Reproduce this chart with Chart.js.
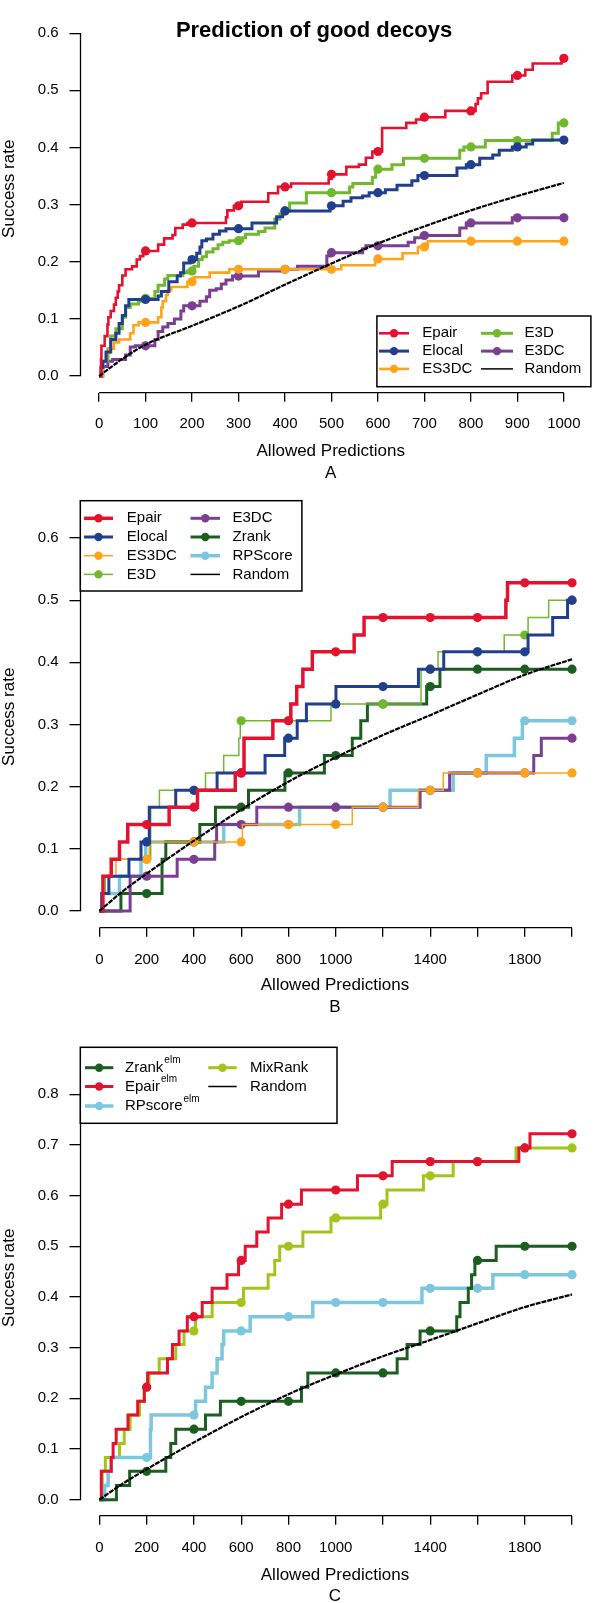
<!DOCTYPE html>
<html><head><meta charset="utf-8">
<script src="https://cdn.jsdelivr.net/npm/chart.js@4.4.1/dist/chart.umd.min.js"></script>
<style>
html,body{margin:0;padding:0;background:#fff;}
#wrap{position:relative;width:594px;height:1603px;overflow:hidden;background:#fff;}
.pane{position:absolute;left:0;width:594px;}
canvas{display:block;}
</style></head><body>
<div id="wrap">
 <div class="pane" style="top:-35px;height:521px"><canvas id="cA" width="594" height="521"></canvas></div>
 <div class="pane" style="top:486px;height:534px"><canvas id="cB" width="594" height="534"></canvas></div>
 <div class="pane" style="top:1020px;height:583px"><canvas id="cC" width="594" height="583"></canvas></div>
</div>
<script>
// ---------------- DATA ----------------
// Panel A : x = allowed predictions, y = success rate ; pairs are [x where step occurs, new value]
const A_epair  = [[0,0],[4,0.03],[5,0.053],[12,0.07],[18,0.09],[20,0.103],[25,0.114],[32,0.125],[36,0.137],[40,0.148],[43,0.159],[50,0.176],[57,0.187],[71,0.192],[81,0.204],[88,0.21],[95,0.219],[127,0.23],[140,0.241],[158,0.247],[164,0.259],[180,0.265],[190,0.268],[273,0.278],[276,0.29],[290,0.298],[306,0.305],[364,0.32],[385,0.331],[413,0.337],[494,0.345],[500,0.353],[532,0.366],[559,0.37],[574,0.382],[588,0.393],[609,0.434],[661,0.443],[682,0.449],[695,0.453],[745,0.464],[810,0.476],[815,0.486],[822,0.495],[836,0.515],[889,0.526],[917,0.536],[933,0.547],[995,0.556],[1000,0.556]];
const A_elocal = [[0,0],[4,0.015],[8,0.026],[15,0.042],[25,0.064],[36,0.075],[43,0.092],[50,0.106],[57,0.123],[64,0.134],[127,0.14],[134,0.148],[150,0.165],[168,0.175],[175,0.181],[182,0.198],[196,0.204],[210,0.215],[217,0.226],[221,0.237],[231,0.24],[245,0.248],[259,0.254],[273,0.258],[329,0.268],[382,0.279],[395,0.289],[497,0.298],[525,0.306],[542,0.312],[567,0.315],[581,0.321],[616,0.326],[641,0.334],[673,0.342],[686,0.351],[770,0.364],[790,0.37],[819,0.381],[847,0.387],[861,0.395],[889,0.401],[919,0.406],[933,0.413],[1000,0.413]];
const A_es3dc  = [[0,0],[8,0.026],[15,0.04],[22,0.048],[32,0.059],[43,0.064],[67,0.075],[74,0.089],[85,0.094],[127,0.103],[134,0.12],[137,0.131],[144,0.142],[148,0.15],[155,0.156],[190,0.165],[204,0.173],[238,0.181],[280,0.187],[521,0.194],[594,0.205],[653,0.215],[686,0.226],[707,0.236],[1000,0.236]];
const A_e3d    = [[0,0],[5,0.015],[8,0.026],[19,0.048],[25,0.07],[36,0.083],[50,0.103],[57,0.12],[67,0.126],[85,0.131],[98,0.136],[120,0.148],[127,0.159],[141,0.17],[148,0.176],[180,0.181],[190,0.184],[204,0.192],[214,0.204],[222,0.209],[231,0.217],[245,0.223],[256,0.23],[266,0.234],[280,0.237],[309,0.242],[315,0.248],[343,0.253],[357,0.259],[378,0.275],[389,0.284],[398,0.289],[410,0.303],[446,0.321],[539,0.331],[546,0.337],[588,0.348],[595,0.362],[630,0.37],[655,0.381],[776,0.395],[785,0.401],[831,0.412],[975,0.425],[988,0.443],[1000,0.443]];
const A_e3dc   = [[0,0],[8,0.017],[19,0.026],[29,0.029],[57,0.037],[67,0.051],[78,0.053],[120,0.064],[127,0.078],[137,0.086],[148,0.092],[162,0.1],[176,0.114],[182,0.123],[217,0.131],[231,0.139],[238,0.15],[252,0.153],[263,0.161],[273,0.168],[287,0.175],[343,0.184],[395,0.187],[427,0.192],[490,0.21],[497,0.216],[567,0.223],[574,0.228],[665,0.234],[679,0.242],[693,0.246],[776,0.259],[790,0.268],[889,0.277],[1000,0.277]];
const A_random = [[0,0],[50,0.03],[100,0.055],[200,0.088],[300,0.122],[400,0.16],[500,0.197],[600,0.232],[700,0.262],[800,0.29],[900,0.315],[1000,0.338]];
const A_marks  = [100,200,300,400,500,600,700,800,900,1000];
const A_xticks = [0,100,200,300,400,500,600,700,800,900,1000];
const A_xlabels= [0,100,200,300,400,500,600,700,800,900,1000];
const A_yticks = [0,0.1,0.2,0.3,0.4,0.5,0.6];

// Panel B
const B_epair  = [[0,0],[15,0.056],[50,0.083],[85,0.111],[120,0.139],[295,0.167],[415,0.194],[575,0.222],[612,0.278],[734,0.306],[810,0.333],[835,0.361],[861,0.389],[901,0.417],[1078,0.444],[1120,0.472],[1720,0.5],[1727,0.528],[2000,0.528]];
const B_elocal = [[0,0],[10,0.028],[40,0.056],[125,0.083],[176,0.111],[211,0.167],[323,0.194],[498,0.222],[701,0.25],[784,0.278],[837,0.306],[876,0.333],[1001,0.361],[1350,0.389],[1457,0.417],[1814,0.444],[1918,0.472],[1981,0.5],[2000,0.5]];
const B_es3dc  = [[0,0],[10,0.028],[40,0.056],[70,0.083],[211,0.111],[605,0.139],[1070,0.167],[1350,0.194],[1455,0.222],[2000,0.222]];
const B_e3d    = [[0,0],[10,0.028],[25,0.056],[50,0.083],[217,0.167],[254,0.194],[449,0.222],[526,0.25],[590,0.278],[596,0.306],[980,0.333],[1361,0.389],[1433,0.417],[1713,0.444],[1814,0.472],[1901,0.5],[2000,0.5]];
const B_e3dc   = [[0,0],[130,0.056],[329,0.083],[488,0.111],[496,0.139],[666,0.167],[1357,0.194],[1482,0.222],[1838,0.25],[1870,0.278],[2000,0.278]];
const B_zrank  = [[0,0],[91,0.028],[265,0.083],[281,0.111],[425,0.139],[491,0.167],[631,0.194],[785,0.222],[952,0.25],[1070,0.278],[1106,0.306],[1134,0.333],[1385,0.361],[1441,0.389],[2000,0.389]];
const B_rpscore= [[0,0],[10,0.028],[85,0.056],[176,0.083],[196,0.111],[526,0.139],[847,0.167],[1230,0.194],[1497,0.222],[1637,0.25],[1756,0.278],[1790,0.306],[2000,0.306]];
const B_random = [[0,0],[100,0.032],[200,0.06],[400,0.113],[600,0.163],[800,0.208],[1000,0.247],[1200,0.283],[1400,0.315],[1600,0.348],[1800,0.38],[2000,0.405]];

// Panel C
const C_zrank  = [[0,0],[72,0.028],[128,0.056],[281,0.083],[302,0.111],[323,0.139],[449,0.167],[512,0.194],[855,0.222],[882,0.25],[1260,0.278],[1302,0.306],[1357,0.333],[1512,0.361],[1526,0.389],[1561,0.417],[1575,0.444],[1589,0.472],[1679,0.5],[2000,0.5]];
const C_epair  = [[0,0],[8,0.056],[50,0.083],[58,0.111],[71,0.139],[121,0.167],[162,0.194],[190,0.222],[204,0.25],[288,0.278],[309,0.306],[337,0.333],[372,0.361],[435,0.389],[477,0.417],[540,0.444],[589,0.472],[617,0.5],[666,0.528],[714,0.556],[771,0.583],[855,0.611],[1092,0.639],[1239,0.667],[1775,0.694],[1822,0.722],[2000,0.722]];
const C_rpscore= [[0,0],[22,0.028],[37,0.056],[50,0.083],[216,0.139],[219,0.167],[407,0.194],[449,0.222],[477,0.25],[498,0.278],[519,0.306],[526,0.333],[638,0.361],[903,0.389],[1365,0.417],[1665,0.444],[2000,0.444]];
const C_mixrank= [[0,0],[12,0.056],[25,0.083],[85,0.111],[105,0.139],[130,0.167],[170,0.194],[190,0.222],[210,0.25],[253,0.278],[323,0.306],[358,0.333],[407,0.361],[477,0.389],[610,0.417],[714,0.444],[742,0.472],[763,0.5],[861,0.528],[980,0.556],[1190,0.583],[1217,0.611],[1371,0.639],[1497,0.667],[1763,0.694],[2000,0.694]];
const C_random = [[0,0],[100,0.032],[200,0.06],[400,0.113],[600,0.163],[800,0.208],[1000,0.247],[1200,0.283],[1400,0.315],[1600,0.348],[1800,0.38],[2000,0.405]];

const BC_marks   = [200,400,600,800,1000,1200,1400,1600,1800,2000];
const BC_xticks  = [0,200,400,600,800,1000,1200,1400,1600,1800,2000];
const BC_xlabels = [0,200,400,600,800,1000,1400,1800];
const B_yticks = [0,0.1,0.2,0.3,0.4,0.5,0.6];
const C_yticks = [0,0.1,0.2,0.3,0.4,0.5,0.6,0.7,0.8];

// ---------------- STYLE ----------------
const COL = {epair:'#e3122f', elocal:'#213f8c', es3dc:'#ffa31a', e3d:'#72b82f', e3dc:'#7b3f92',
             zrank:'#1b5e20', rpscore:'#7cc7de', mixrank:'#a3c41a', random:'#000000'};
Chart.defaults.font.family = "'Liberation Sans', Arial, Helvetica, sans-serif";
Chart.defaults.color = '#000';

function stepData(pairs, marks){
  const pts = pairs.map(([x,y]) => ({x, y, m:false}));
  marks.forEach(mx => {
    let v = 0; for (const [x,y] of pairs) { if (x <= mx) v = y; }
    const hit = pts.find(p => p.x === mx);
    if (hit) hit.m = true; else pts.push({x:mx, y:v, m:true});
  });
  pts.sort((a,b) => a.x - b.x);
  return pts;
}
function stepDS(label, pairs, marks, color, width, sup){
  return {label, sup, hasMarkers:true, data: stepData(pairs, marks), borderColor: color, backgroundColor: color,
    pointBackgroundColor: color, pointBorderColor: color, borderWidth: width, stepped:'before', tension:0,
    pointRadius: c => (c.raw && c.raw.m) ? 4.6 : 0, pointBorderWidth:0, pointHoverRadius:0, fill:false, order:0};
}
function randomDS(pairs){
  return {label:'Random', hasMarkers:false, data: pairs.map(([x,y]) => ({x,y})), borderColor:'#000', backgroundColor:'#000',
    borderWidth:2.2, borderDash:[5,1], pointRadius:0, cubicInterpolationMode:'monotone', fill:false, order:-1};
}

const rAxes = {
  id:'raxes',
  afterDraw(chart, args, o){
    const {ctx, chartArea, scales:{x, y}} = chart;
    ctx.save(); ctx.strokeStyle = '#000'; ctx.lineWidth = 1.3; ctx.beginPath();
    ctx.moveTo(chartArea.left, y.getPixelForValue(o.y0)); ctx.lineTo(chartArea.left, y.getPixelForValue(o.y1));
    ctx.moveTo(x.getPixelForValue(o.x0), chartArea.bottom); ctx.lineTo(x.getPixelForValue(o.x1), chartArea.bottom);
    ctx.stroke(); ctx.restore();
  }
};
const rLegend = {
  id:'rlegend',
  afterDraw(chart, args, o){
    const ctx = chart.ctx; const [x0,y0,x1,y1] = o.box;
    ctx.save();
    ctx.fillStyle = '#fff'; ctx.fillRect(x0, y0, x1-x0, y1-y0);
    ctx.strokeStyle = '#000'; ctx.lineWidth = 1.5; ctx.strokeRect(x0, y0, x1-x0, y1-y0);
    o.items.forEach(([di, ci, ri]) => {
      const ds = chart.data.datasets[di]; const c = o.cols[ci]; const y = o.rows[ri];
      ctx.strokeStyle = ds.borderColor; ctx.lineWidth = ds.label === 'Random' ? 1.5 : ds.borderWidth;
      ctx.beginPath(); ctx.moveTo(c[0], y); ctx.lineTo(c[1], y); ctx.stroke();
      if (ds.hasMarkers){ ctx.fillStyle = ds.borderColor; ctx.beginPath(); ctx.arc((c[0]+c[1])/2, y, 4.2, 0, Math.PI*2); ctx.fill(); }
      ctx.fillStyle = '#000'; ctx.font = "15px 'Liberation Sans', Arial, sans-serif";
      ctx.textAlign = 'left'; ctx.textBaseline = 'middle';
      ctx.fillText(ds.label, c[2], y);
      if (ds.sup){
        const w = ctx.measureText(ds.label).width;
        ctx.font = "10px 'Liberation Sans', Arial, sans-serif";
        ctx.fillText(ds.sup, c[2] + w + 1, y - 7);
      }
    });
    ctx.restore();
  }
};

function makePanel(id, p){
  return new Chart(document.getElementById(id), {
    type:'line',
    data:{datasets: p.datasets},
    plugins:[rAxes, rLegend],
    options:{
      responsive:false, animation:false, events:[],
      layout:{padding:{top:p.padTop, left:p.padLeft, right:0, bottom:0}},
      plugins:{
        legend:{display:false}, tooltip:{enabled:false},
        title: p.title ? {display:true, text:p.title, font:{size:22, weight:'bold', lineHeight:'1px'}, color:'#000', padding:{top:45.5, bottom:-46.5}} : {display:false},
        raxes:{x0:0, x1:p.xticks[p.xticks.length-1], y0:0, y1:p.yticks[p.yticks.length-1]},
        rlegend:p.legend
      },
      scales:{
        x:{type:'linear', min:p.xmin, max:p.xmax,
           afterFit: s => { s.height = p.xH; },
           afterBuildTicks: s => { s.ticks = p.xticks.map(v => ({value:v})); },
           border:{display:false},
           grid:{display:true, drawOnChartArea:false, drawTicks:true, tickLength:9, color:'#000', lineWidth:1.3},
           ticks:{autoSkip:false, maxRotation:0, minRotation:0, padding:p.xPad, font:{size:15}, color:'#000',
                  callback: v => p.xlabels.includes(v) ? String(v) : ''},
           title:{display:true, text:['Allowed Predictions', p.letter], color:'#000', font:{size:17, lineHeight:'21.6px'}, padding:{top:0, bottom:p.xTitleBottom}}
        },
        y:{type:'linear', min:p.ymin, max:p.ymax,
           afterFit: s => { s.width = p.yW; },
           afterBuildTicks: s => { s.ticks = p.yticks.map(v => ({value:v})); },
           border:{display:false},
           grid:{display:true, drawOnChartArea:false, drawTicks:true, tickLength:11, color:'#000', lineWidth:1.3},
           ticks:{autoSkip:false, padding:10.8, font:{size:15}, color:'#000', callback: v => Number(v).toFixed(1)},
           title:{display:true, text:'Success rate', color:'#000', font:{size:17}, padding:{top:p.yTitlePad, bottom:0}}
        }
      }
    }
  });
}

// Panel A
makePanel('cA', {
  title:'Prediction of good decoys', padTop:0, padLeft:34, yW:46.5, yTitlePad:-34.7,
  xmin:-40, xmax:1036.7, ymin:-0.02903, ymax:0.68463, xH:93.3, xPad:13.3, xTitleBottom:1.9, letter:'A',
  xticks:A_xticks, xlabels:A_xlabels, yticks:A_yticks,
  datasets:[
    stepDS('Epair', A_epair, A_marks, COL.epair, 2.6),
    stepDS('Elocal', A_elocal, A_marks, COL.elocal, 3),
    stepDS('ES3DC', A_es3dc, A_marks, COL.es3dc, 2.6),
    stepDS('E3D', A_e3d, A_marks, COL.e3d, 3),
    stepDS('E3DC', A_e3dc, A_marks, COL.e3dc, 3),
    randomDS(A_random)
  ],
  legend:{box:[376.9,351,590.9,421.7], rows:[368.3,386.1,403.9], cols:[[379,409,422.3],[481,513,524.6]],
          items:[[0,0,0],[1,0,1],[2,0,2],[3,1,0],[4,1,1],[5,1,2]]}
});

// Panel B
makePanel('cB', {
  title:null, padTop:14, padLeft:0, yW:80.5, yTitlePad:-0.7,
  xmin:-80, xmax:2073.5, ymin:-0.02698, ymax:0.6519, xH:92.3, xPad:14.3, xTitleBottom:1.9, letter:'B',
  xticks:BC_xticks, xlabels:BC_xlabels, yticks:B_yticks,
  datasets:[
    stepDS('Epair', B_epair, BC_marks, COL.epair, 3.5),
    stepDS('Elocal', B_elocal, BC_marks, COL.elocal, 3),
    stepDS('ES3DC', B_es3dc, BC_marks, COL.es3dc, 1.5),
    stepDS('E3D', B_e3d, BC_marks, COL.e3d, 1.5),
    stepDS('E3DC', B_e3dc, BC_marks, COL.e3dc, 3),
    stepDS('Zrank', B_zrank, BC_marks, COL.zrank, 3),
    stepDS('RPScore', B_rpscore, BC_marks, COL.rpscore, 3.5),
    randomDS(B_random)
  ],
  legend:{box:[80.3,14.7,301.9,105], rows:[32.3,51.0,69.7,88.4], cols:[[84,113,126.8],[190.5,220,232.5]],
          items:[[0,0,0],[1,0,1],[2,0,2],[3,0,3],[4,1,0],[5,1,1],[6,1,2],[7,1,3]]}
});

// Panel C
makePanel('cC', {
  title:null, padTop:0, padLeft:0, yW:80.5, yTitlePad:-0.7,
  xmin:-80, xmax:2073.5, ymin:-0.03163, ymax:0.90737, xH:87.3, xPad:14.3, xTitleBottom:-4.5, letter:'C',
  xticks:BC_xticks, xlabels:BC_xlabels, yticks:C_yticks,
  datasets:[
    stepDS('Zrank', C_zrank, BC_marks, COL.zrank, 3, 'elm'),
    stepDS('Epair', C_epair, BC_marks, COL.epair, 3, 'elm'),
    stepDS('RPscore', C_rpscore, BC_marks, COL.rpscore, 3.5, 'elm'),
    stepDS('MixRank', C_mixrank, BC_marks, COL.mixrank, 3),
    randomDS(C_random)
  ],
  legend:{box:[80.3,27.3,337,103.3], rows:[47.7,66.5,86], cols:[[85,113.3,125],[208.3,236.7,250]],
          items:[[0,0,0],[1,0,1],[2,0,2],[3,1,0],[4,1,1]]}
});
</script>
</body></html>
